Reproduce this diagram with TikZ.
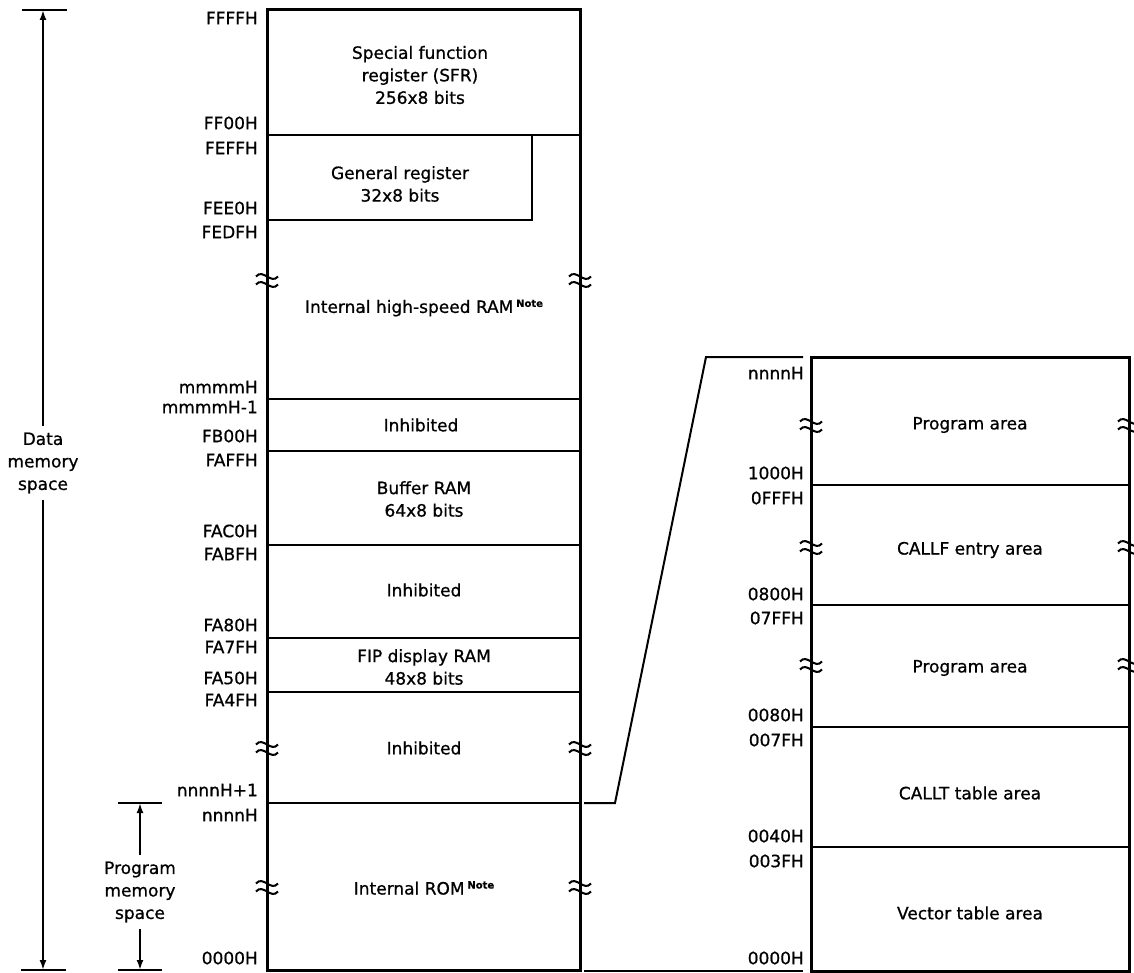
\documentclass[tikz,border=0pt]{standalone}
\usepackage{fontspec}
\setmainfont{DejaVu Sans}[FakeBold=0.8]
\usetikzlibrary{arrows.meta}
\newcommand{\notemark}{\,\raisebox{6pt}{\fontsize{10}{10}\selectfont\bfseries Note}}
\begin{document}
\begin{tikzpicture}[x=1pt,y=-1pt,
  every node/.style={font=\fontsize{17}{22.5}\selectfont, inner sep=0pt},
  lbl/.style={anchor=east},
  cell/.style={align=center},
  frame/.style={line width=3pt},
  div/.style={line width=2.2pt},
  conn/.style={line width=2pt},
  dim/.style={line width=2pt},
  tip/.style={-{Latex[length=10pt,width=7pt]}},
  breakmark/.pic={
    \draw[line width=2pt] (-11,-3.5) .. controls (-4,-12) and (4,5) .. (11,-3.5);
    \draw[line width=2pt] (-11,4.5) .. controls (-4,-4) and (4,13) .. (11,4.5);
  }
]
\useasboundingbox (0,0) rectangle (1134,973);

% ---------- left memory map ----------
\draw[frame] (267,10) rectangle (580,970);
\draw[div] (267,135) -- (580,135);
\draw[div] (267,220) -| (532,135);
\draw[div] (267,399) -- (580,399);
\draw[div] (267,451) -- (580,451);
\draw[div] (267,545) -- (580,545);
\draw[div] (267,638) -- (580,638);
\draw[div] (267,692) -- (580,692);
\draw[div] (267,803) -- (580,803);

\foreach \yy in {280,748,887} {
  \pic at (267,\yy) {breakmark};
  \pic at (580,\yy) {breakmark};
}

\node[cell] (sfr) at (420,75) {Special function\\register (SFR)\\256x8 bits};
\node[cell] (gr) at (400,184) {General register\\32x8 bits};
\node (ihs) at (424,308) {Internal high-speed RAM\notemark};
\node (inh1) at (421,425) {Inhibited};
\node[cell] (buf) at (424,499) {Buffer RAM\\64x8 bits};
\node (inh2) at (424,590) {Inhibited};
\node[cell] (fip) at (424,667) {FIP display RAM\\48x8 bits};
\node (inh3) at (424,748) {Inhibited};
\node (rom) at (424,888) {Internal ROM\notemark};

\node[lbl] (a1) at (258,18) {FFFFH};
\node[lbl] (a2) at (258,123) {FF00H};
\node[lbl] (a3) at (258,148) {FEFFH};
\node[lbl] (a4) at (258,208) {FEE0H};
\node[lbl] (a5) at (258,232) {FEDFH};
\node[lbl] (a6) at (258,387) {mmmmH};
\node[lbl] (a7) at (258,407) {mmmmH-1};
\node[lbl] (a8) at (258,436) {FB00H};
\node[lbl] (a9) at (258,460) {FAFFH};
\node[lbl] (a10) at (258,531) {FAC0H};
\node[lbl] (a11) at (258,554) {FABFH};
\node[lbl] (a12) at (258,625) {FA80H};
\node[lbl] (a13) at (258,647) {FA7FH};
\node[lbl] (a14) at (258,678) {FA50H};
\node[lbl] (a15) at (258,700) {FA4FH};
\node[lbl] (a16) at (258,790) {nnnnH+1};
\node[lbl] (a17) at (258,815) {nnnnH};
\node[lbl] (a18) at (258,958) {0000H};

% ---------- right memory map ----------
\draw[frame] (811,357) rectangle (1129,971);
\draw[div] (811,485) -- (1129,485);
\draw[div] (811,605) -- (1129,605);
\draw[div] (811,727) -- (1129,727);
\draw[div] (811,847) -- (1129,847);

\foreach \yy in {425,547,665} {
  \pic at (811,\yy) {breakmark};
  \pic at (1129,\yy) {breakmark};
}

\node (pa1) at (970,425) {Program area};
\node (cf) at (970,550) {CALLF entry area};
\node (pa2) at (970,668) {Program area};
\node (ct) at (970,793) {CALLT table area};
\node (vt) at (970,913) {Vector table area};

\node[lbl] (b1) at (804,373) {nnnnH};
\node[lbl] (b2) at (804,473) {1000H};
\node[lbl] (b3) at (804,498) {0FFFH};
\node[lbl] (b4) at (804,594) {0800H};
\node[lbl] (b5) at (804,618) {07FFH};
\node[lbl] (b6) at (804,715) {0080H};
\node[lbl] (b7) at (804,740) {007FH};
\node[lbl] (b8) at (804,836) {0040H};
\node[lbl] (b9) at (804,861) {003FH};
\node[lbl] (b10) at (804,958) {0000H};

% ---------- expansion connectors ----------
\coordinate (c1) at (584,803);
\coordinate (c2) at (615,803);
\coordinate (c3) at (706,357);
\coordinate (c4) at (803,357);
\coordinate (c5) at (584,971);
\coordinate (c6) at (803,971);
\draw[conn] (c1) -- (c2) -- (c3) -- (c4);
\draw[conn] (c5) -- (c6);

% ---------- data memory space dimension ----------
\coordinate (dt) at (43,10);
\coordinate (db) at (43,970);
\draw[dim] (22,10) -- (67,10);
\draw[dim] (21,970) -- (66,970);
\node[cell] (dms) at (43,463) {Data\\memory\\space};
\draw[dim,tip] (dms.north) ++(0,-6) -- (dt);
\draw[dim,tip] (dms.south) ++(0,6) -- (db);

% ---------- program memory space dimension ----------
\coordinate (pt) at (140,803);
\coordinate (pb) at (140,970);
\draw[dim] (118,803) -- (162,803);
\draw[dim] (118,970) -- (162,970);
\node[cell] (pms) at (140,892) {Program\\memory\\space};
\draw[dim,tip] (pms.north) ++(0,-6) -- (pt);
\draw[dim,tip] (pms.south) ++(0,6) -- (pb);
\end{tikzpicture}
\end{document}
